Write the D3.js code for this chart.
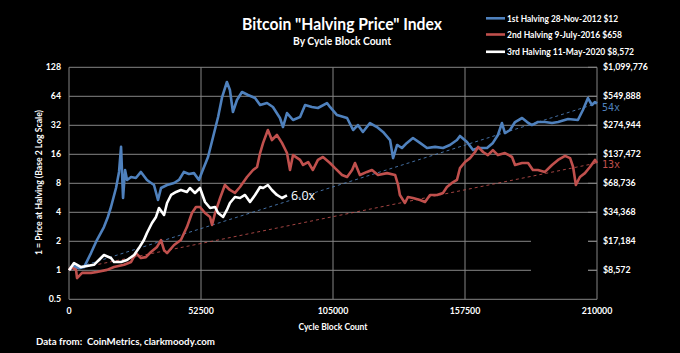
<!DOCTYPE html>
<html><head><meta charset="utf-8">
<script src="https://cdn.jsdelivr.net/npm/d3@7"></script>
<style>html,body{margin:0;padding:0;background:#000;}svg{display:block;}</style>
</head><body>
<svg id="chart" width="680" height="353"></svg>
<script>
// ---- data (cycle block count, price multiple of halving price) ----
const halving1 = [[0,1.00],[2000,1.10],[4000,1.05],[6000,1.08],[8750,1.51],[11100,2.06],[13900,2.81],[15500,3.6],[16700,4.54],[18700,7.15],[19900,10.5],[20700,19.1],[21500,5.63],[22300,11.0],[23100,8.66],[24700,9.30],[26600,9.08],[28600,10.5],[31000,8.66],[33800,7.68],[35400,5.37],[36600,7.15],[39000,7.68],[41800,8.06],[43750,8.66],[45700,10.5],[47700,10.0],[49700,10.2],[51700,8.66],[52900,10.5],[55300,15.0],[57300,24.2],[59300,39.0],[60900,62.9],[62800,90.1],[64000,74.4],[65200,44.0],[66800,58.6],[68800,70.9],[71200,66.0],[74000,61.4],[76000,52.0],[78750,54.5],[81100,49.6],[83900,38.1],[85100,30.7],[86700,42.9],[89100,36.3],[91900,39.0],[93900,52.0],[96600,49.6],[99000,48.4],[102600,54.5],[103800,49.6],[106600,40.9],[110600,38.1],[113000,28.6],[114900,32.2],[116900,27.3],[119700,33.8],[122500,30.7],[124900,27.3],[127700,22.5],[128900,14.6],[130500,20.0],[132400,18.6],[134400,21.0],[136800,23.6],[139600,21.0],[142400,18.6],[145600,19.1],[148750,18.6],[151500,20.0],[154300,22.5],[155500,24.8],[158300,21.5],[160700,17.7],[162700,18.6],[166250,18.6],[168600,21.0],[170600,25.4],[172200,33.8],[173400,26.6],[175400,28.6],[177400,34.6],[180200,38.1],[182200,34.6],[184100,32.2],[186500,34.6],[189300,34.6],[192100,33.8],[194500,34.6],[198500,37.2],[202400,36.3],[204400,46.1],[206400,61.4],[208000,52.0],[209200,55.8],[210000,54.0]];
const halving2 = [[0,1.00],[800,1.08],[2800,1.01],[3200,0.83],[5200,0.94],[8750,0.94],[11100,0.96],[15100,1.01],[17900,1.08],[21900,1.14],[24700,1.22],[26600,1.51],[28600,1.34],[30600,1.37],[32600,1.55],[35000,1.75],[36600,2.06],[37800,1.62],[39000,1.51],[41800,1.83],[44500,2.06],[46900,2.81],[48900,3.93],[50500,4.54],[52100,4.54],[54100,3.93],[56100,3.58],[56900,2.95],[58100,3.93],[60100,5.63],[62000,7.68],[64000,6.82],[66000,6.35],[68000,7.32],[70800,9.30],[73200,11.0],[74800,11.8],[76000,16.5],[77200,21.0],[79100,28.6],[80700,22.5],[82700,25.4],[84700,21.0],[86700,16.5],[87900,11.0],[89100,15.7],[91900,14.0],[93100,12.4],[95100,13.3],[97000,11.0],[99000,14.0],[101000,15.0],[103800,13.0],[105800,11.5],[108600,9.76],[110600,9.30],[112600,11.0],[113750,13.0],[115700,9.76],[118500,10.5],[120500,11.0],[122900,9.76],[126500,10.2],[129700,9.76],[130900,7.68],[131600,6.05],[133600,5.00],[134800,5.77],[136800,5.63],[139600,5.37],[141600,5.12],[143600,6.05],[146400,6.05],[148750,6.35],[150300,7.32],[152300,8.06],[154300,8.66],[155500,11.5],[157500,13.3],[159500,14.6],[161500,16.9],[162700,19.1],[164700,16.9],[166600,15.7],[168600,17.7],[170600,15.7],[173400,16.5],[176200,15.0],[177400,12.4],[180200,13.0],[182600,13.0],[184500,11.0],[186500,11.0],[189300,10.5],[192100,12.4],[194500,14.0],[197300,15.4],[199300,14.6],[200500,11.8],[201600,7.68],[203200,9.30],[205200,10.2],[207200,11.8],[209200,14.0],[210000,13.0]];
const halving3 = [[0,1.00],[2000,1.19],[4800,1.08],[7200,1.11],[9900,1.14],[11900,1.28],[13900,1.44],[16700,1.34],[17900,1.22],[20700,1.22],[23100,1.28],[25900,1.44],[27800,1.70],[29800,2.06],[31000,2.44],[33000,3.10],[34600,3.58],[35800,4.43],[37800,3.75],[39000,5.00],[40600,6.05],[42600,6.50],[44500,6.82],[46900,6.50],[48100,7.15],[50100,6.35],[52100,7.15],[54100,5.12],[56100,4.43],[58100,4.54],[59300,3.93],[61300,3.58],[62800,4.23],[64000,5.00],[66000,5.77],[68000,5.63],[70000,6.05],[72000,5.12],[74000,6.05],[76000,7.32],[77200,7.15],[79100,7.68],[80700,6.82],[82700,6.05],[84700,5.63],[86700,6.00]];
const trend1 = [[0,1],[210000,54]];
const trend2 = [[0,1],[210000,13]];
const seriesNames = ["1st Halving 28-Nov-2012 $12","2nd Halving 9-July-2016 $658","3rd Halving 11-May-2020 $8,572"];
const seriesColors = ["#4f81bd","#c0504d","#ffffff"];
const xTicks = [0,52500,105000,157500,210000];
const yTicks = [0.5,1,2,4,8,16,32,64,128];
const yTickLabels = ["0.5","1","2","4","8","16","32","64","128"];
const rightTicks = [1,2,4,8,16,32,64,128];
const rightTickLabels = ["$8,572","$17,184","$34,368","$68,736","$137,472","$274,944","$549,888","$1,099,776"];
const endLabels = [{text:"54x",v:54},{text:"13x",v:13},{text:"6.0x",v:6.0,b:86700}];

const font = "Lato, 'Open Sans', sans-serif";
const svg = d3.select("#chart");
svg.append("rect").attr("width",680).attr("height",353).attr("fill","#000");

const x = d3.scaleLinear().domain([0,210000]).range([69,597]);
const y = d3.scaleLog().base(2).domain([0.5,128]).range([299.3,67.3]);
const grid = "#858585";

// horizontal gridlines
const g = svg.append("g");
g.selectAll("line.h").data(yTicks.slice(1)).join("line")
  .attr("x1",x(0)).attr("x2",x(210000))
  .attr("y1",d=>y(d)).attr("y2",d=>y(d))
  .attr("stroke",grid).attr("stroke-width",1);
// vertical gridlines
g.selectAll("line.v").data(xTicks).join("line")
  .attr("x1",d=>x(d)).attr("x2",d=>x(d))
  .attr("y1",y(128)).attr("y2",y(0.5))
  .attr("stroke",grid).attr("stroke-width",1);
// bottom axis
g.append("line").attr("x1",x(0)).attr("x2",x(210000)).attr("y1",y(0.5)).attr("y2",y(0.5)).attr("stroke",grid);
// gap in gridlines (blank text box in original)
svg.append("rect").attr("x",531).attr("y",232).attr("width",57).attr("height",45).attr("fill","#000");
// right axis inner ticks
g.selectAll("line.rt").data(rightTicks).join("line")
  .attr("x1",x(210000)-9).attr("x2",x(210000))
  .attr("y1",d=>y(d)).attr("y2",d=>y(d)).attr("stroke",grid);

// trend lines
const line = d3.line().x(d=>x(d[0])).y(d=>y(d[1]));
svg.append("path").datum(trend1).attr("d",line).attr("fill","none")
  .attr("stroke","#4f81bd").attr("stroke-width",1).attr("stroke-dasharray","3,3").attr("opacity",0.85);
svg.append("path").datum(trend2).attr("d",line).attr("fill","none")
  .attr("stroke","#c0504d").attr("stroke-width",1).attr("stroke-dasharray","3,3").attr("opacity",0.85);

// series
[halving1,halving2,halving3].forEach((s,i)=>{
  svg.append("path").datum(s).attr("d",line).attr("fill","none")
    .attr("stroke",seriesColors[i]).attr("stroke-width",2.6)
    .attr("stroke-linejoin","round");
});

const tickFont = `bold 8.8px ${font}`;
// left tick labels
svg.selectAll("text.yl").data(yTicks).join("text")
  .attr("x",61).attr("y",d=>y(d)).attr("dy","0.35em")
  .attr("text-anchor","end").attr("fill","#fff")
  .style("font",tickFont)
  .text((d,i)=>yTickLabels[i]);
// right tick labels
svg.selectAll("text.yr").data(rightTicks).join("text")
  .attr("x",603).attr("y",d=>y(d)).attr("dy","0.35em")
  .attr("fill","#fff").style("font",tickFont)
  .text((d,i)=>rightTickLabels[i]);
// x tick labels
svg.selectAll("text.xl").data(xTicks).join("text")
  .attr("x",d=>x(d)).attr("y",311).attr("dy","0.35em")
  .attr("text-anchor","middle").attr("fill","#fff")
  .style("font",tickFont).text(d=>d);

// axis titles
svg.append("text").attr("x",333).attr("y",326).attr("dy","0.35em")
  .attr("text-anchor","middle").attr("fill","#fff")
  .attr("textLength",69).attr("lengthAdjust","spacingAndGlyphs")
  .style("font",`bold 10px ${font}`).text("Cycle Block Count");
svg.append("text").attr("transform","translate(38,182.5) rotate(-90)").attr("dy","0.35em")
  .attr("text-anchor","middle").attr("fill","#fff")
  .attr("textLength",145).attr("lengthAdjust","spacingAndGlyphs")
  .style("font",`bold 10px ${font}`).text("1 = Price at Halving (Base 2 Log Scale)");
svg.append("text").attr("x",36).attr("y",341).attr("dy","0.35em")
  .attr("fill","#fff").style("font",`bold 10px ${font}`)
  .attr("textLength",179).attr("lengthAdjust","spacingAndGlyphs")
  .attr("xml:space","preserve").text("Data from:  CoinMetrics, clarkmoody.com");

// title
svg.append("text").attr("x",342).attr("y",23.5).attr("dy","0.35em")
  .attr("text-anchor","middle").attr("fill","#fff")
  .attr("textLength",200).attr("lengthAdjust","spacingAndGlyphs")
  .style("font",`bold 17.5px ${font}`).text('Bitcoin "Halving Price" Index');
svg.append("text").attr("x",342).attr("y",41.5).attr("dy","0.35em")
  .attr("text-anchor","middle").attr("fill","#fff")
  .attr("textLength",98).attr("lengthAdjust","spacingAndGlyphs")
  .style("font",`bold 11px ${font}`).text("By Cycle Block Count");

// legend
const legY = [18.3,34.5,51.8];
const legW = [111,115,127];
seriesNames.forEach((n,i)=>{
  svg.append("line").attr("x1",486).attr("x2",505).attr("y1",legY[i]).attr("y2",legY[i])
    .attr("stroke",seriesColors[i]).attr("stroke-width",2.6);
  svg.append("text").attr("x",507).attr("y",legY[i]).attr("dy","0.35em")
    .attr("fill","#fff").style("font",`bold 9.5px ${font}`)
    .attr("textLength",legW[i]).attr("lengthAdjust","spacingAndGlyphs").text(n);
});

// end labels
svg.append("text").attr("x",602).attr("y",y(54)+4).attr("dy","0.35em")
  .attr("fill","#4f81bd").style("font",`10px 'DejaVu Sans Mono', monospace`).text(endLabels[0].text);
svg.append("text").attr("x",602).attr("y",y(13)+2).attr("dy","0.35em")
  .attr("fill","#c0504d").style("font",`10px 'DejaVu Sans Mono', monospace`).text(endLabels[1].text);
svg.append("text").attr("x",x(endLabels[2].b)+4).attr("y",y(6.0)).attr("dy","0.35em")
  .attr("fill","#fff").style("font",`12.5px 'Open Sans', sans-serif`).text(endLabels[2].text);
</script>
</body></html>
